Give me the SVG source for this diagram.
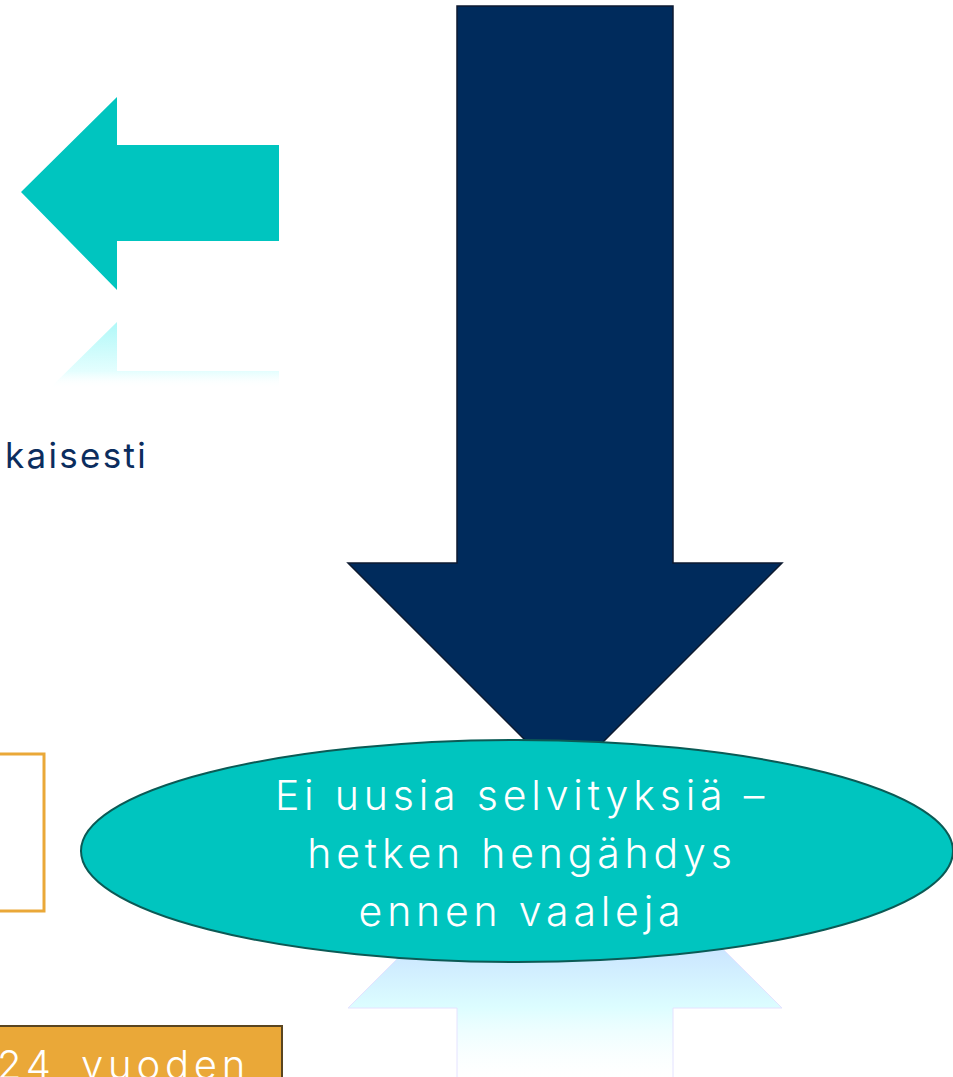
<svg xmlns="http://www.w3.org/2000/svg" width="953" height="1077" viewBox="0 0 953 1077">
<defs>
<linearGradient id="reflUp" x1="0" y1="950" x2="0" y2="1077" gradientUnits="userSpaceOnUse">
<stop offset="0" stop-color="#cbe6ff"/>
<stop offset="0.45" stop-color="#dcfdff"/>
<stop offset="1" stop-color="#ffffff" stop-opacity="0.3"/>
</linearGradient>
<linearGradient id="reflLeft" x1="0" y1="322" x2="0" y2="388" gradientUnits="userSpaceOnUse">
<stop offset="0" stop-color="#b0f8f8"/>
<stop offset="0.75" stop-color="#e4fefe"/>
<stop offset="1" stop-color="#ffffff" stop-opacity="0"/>
</linearGradient>
<style>
.navy{fill:#002B5C;stroke:#0d1a30;stroke-width:1.5}
.teal{fill:#00C5BF}
.ell{fill:#00C5BF;stroke:#0b5a55;stroke-width:2}
.wt{fill:#ffffff;font-family:Inter,"Open Sans",sans-serif;font-size:41px;font-weight:300;letter-spacing:4.8px;text-anchor:middle}
.dk{fill:#0b2d5e;font-family:Inter,"Open Sans",sans-serif;font-size:35px;font-weight:400;letter-spacing:2.3px}
</style>
</defs>
<rect width="953" height="1077" fill="#ffffff"/>
<g id="left-arrow">
<polygon class="teal" points="21,192 117,97 117,145 279,145 279,241 117,241 117,290"/>
<polygon fill="url(#reflLeft)" points="117,322 117,371 279,371 279,388 50,388"/>
</g>
<g id="text-kaisesti">
<text class="dk" x="148" y="468" text-anchor="end">kaisesti</text>
</g>
<g id="orange-outline-box">
<rect x="-10" y="754" width="54" height="157" fill="none" stroke="#EAA838" stroke-width="3"/>
</g>
<g id="orange-box">
<rect x="-10" y="1026" width="292" height="70" fill="#EAA838" stroke="#5a4520" stroke-width="2"/>
<text y="1079" fill="#ffffff" font-family="Inter, Open Sans, sans-serif" font-weight="300" font-size="40" letter-spacing="4.8"><tspan x="-3">24</tspan> <tspan x="81">vuoden</tspan></text>
</g>
<g id="reflection">
<polygon fill="url(#reflUp)" stroke="#e4e2ff" stroke-width="1" points="565,791 782,1008 673,1008 673,1090 457,1090 457,1008 348,1008"/>
</g>
<g id="down-arrow">
<polygon class="navy" points="457,6 673,6 673,563 782,563 565,780 348,563 457,563"/>
</g>
<g id="ellipse-node">
<ellipse class="ell" cx="517" cy="851" rx="436" ry="111"/>
<text class="wt" x="522" y="810">Ei uusia selvityksiä –</text>
<text class="wt" x="522" y="868">hetken hengähdys</text>
<text class="wt" x="522" y="926">ennen vaaleja</text>
</g>
</svg>
